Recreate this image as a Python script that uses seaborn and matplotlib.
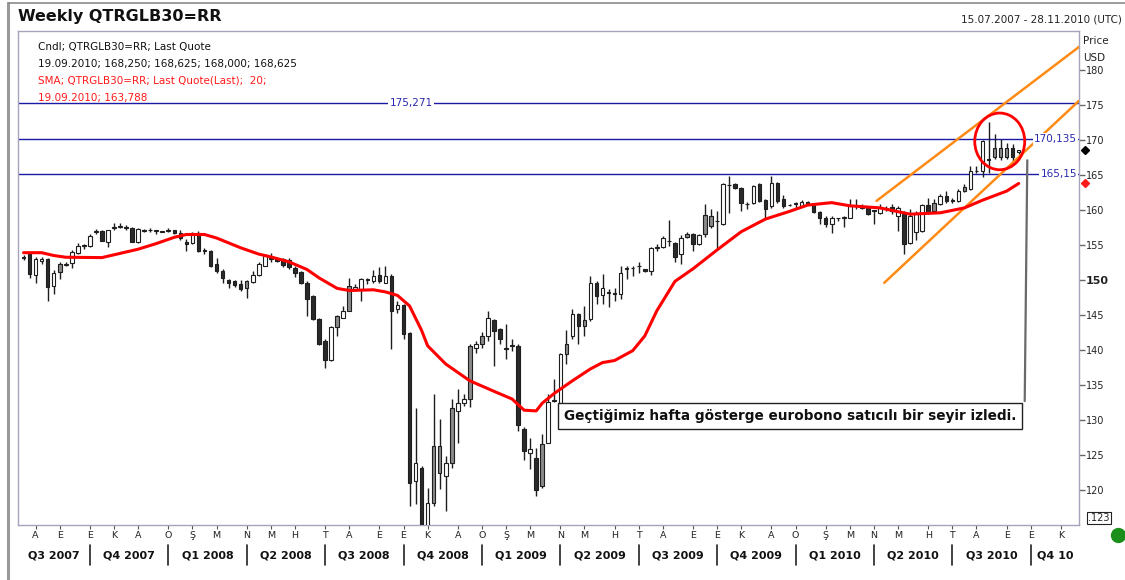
import numpy as np
import pandas as pd
import matplotlib
matplotlib.use("Agg")
import matplotlib.pyplot as plt
import matplotlib.dates as mdates
import matplotlib.transforms as mtransforms
from matplotlib.patches import Ellipse
from matplotlib.lines import Line2D
import seaborn as sns

# ---------------- data ----------------
first_candle = "2007-07-22"
range_start = "2007-07-15"
range_end = "2010-11-28"

opens = [153.2, 153.67, 150.71, 152.7, 152.95, 149.14, 152.24, 152.2, 152.48, 153.9,
         154.8, 154.86, 156.9, 157.0, 155.48, 157.4, 157.55, 157.55, 157.38, 155.48,
         157.05, 157.15, 157.0, 156.9, 157.0, 157.15, 156.76, 155.43, 155.33, 156.76,
         154.2, 154.14, 152.24, 151.29, 149.95, 149.86, 149.38, 149.86, 149.71, 150.71,
         152.0, 153.1, 152.95, 153.05, 152.86, 151.76, 151.19, 149.62, 147.7, 144.38,
         141.29, 138.52, 144.86, 144.62, 149.14, 148.7, 148.67, 150.05, 149.86, 150.71,
         149.62, 150.57, 145.9, 146.43, 142.48, 121.29, 123.2, 114.6, 126.3, 126.29,
         122.0, 131.76, 131.29, 132.4, 140.57, 140.24, 142.0, 142.0, 144.24, 142.95,
         140.3, 140.6, 140.57, 128.67, 125.33, 124.6, 126.52, 126.76, 132.7, 132.48,
         140.81, 142.0, 145.1, 144.24, 144.38, 149.62, 147.86, 148.15, 148.1, 148.05,
         151.6, 151.7, 151.95, 151.52, 151.29, 154.6, 154.71, 155.6, 155.33, 153.67,
         156.62, 156.52, 155.19, 159.24, 159.14, 158.4, 157.95, 163.55, 163.67, 163.19,
         160.8, 161.05, 163.67, 161.38, 160.57, 163.9, 161.52, 160.65, 161.05, 160.57,
         161.19, 160.81, 159.76, 158.9, 158.05, 158.8, 158.85, 158.9, 160.55, 160.5,
         160.43, 159.9, 159.6, 160.25, 160.43, 159.14, 159.38, 155.33, 156.9, 157.0,
         160.71, 161.05, 160.81, 162.0, 161.4, 161.29, 163.29, 162.95, 165.55, 165.5,
         167.3, 168.9, 168.9, 168.9, 168.9, 168.25]
highs = [153.5, 153.9, 153.29, 153.29, 153.1, 151.38, 152.6, 152.5, 154.3, 155.33,
         155.2, 156.5, 157.24, 157.1, 157.2, 158.2, 158.2, 157.85, 157.5, 157.4,
         157.35, 157.4, 157.1, 157.0, 157.45, 157.2, 157.1, 155.8, 156.9, 157.0,
         154.6, 154.3, 153.2, 151.5, 150.2, 150.0, 149.95, 150.0, 151.3, 152.5,
         153.67, 153.9, 153.1, 153.2, 153.1, 152.0, 151.3, 149.8, 147.9, 144.62,
         141.5, 143.43, 145.0, 146.3, 150.24, 149.4, 150.3, 150.3, 151.4, 151.86,
         152.0, 150.8, 147.0, 146.6, 142.6, 131.76, 123.4, 120.3, 133.67, 130.1,
         124.86, 132.95, 134.4, 133.67, 140.9, 141.3, 142.5, 145.57, 144.4, 143.2,
         143.67, 141.5, 140.8, 129.0, 127.4, 126.05, 127.95, 133.67, 135.8, 139.6,
         142.8, 145.81, 145.33, 146.29, 150.57, 149.86, 150.81, 148.67, 148.9, 152.0,
         152.0, 152.0, 152.6, 151.6, 154.71, 155.1, 156.29, 158.52, 155.4, 156.38,
         156.9, 156.7, 156.6, 160.9, 160.1, 159.86, 163.9, 164.86, 163.8, 163.3,
         161.1, 163.6, 163.9, 161.5, 164.86, 164.0, 162.1, 160.9, 161.2, 161.4,
         161.3, 161.0, 159.9, 159.1, 159.1, 158.9, 159.1, 161.52, 161.5, 160.8,
         160.6, 159.95, 160.8, 160.5, 160.8, 160.5, 159.86, 160.1, 159.86, 160.9,
         161.76, 161.5, 162.24, 162.71, 161.7, 162.95, 163.67, 166.29, 166.29, 170.0,
         172.5, 170.81, 170.1, 169.6, 169.4, 168.625]
lows = [152.9, 150.33, 149.62, 152.24, 147.0, 148.05, 150.1, 152.0, 151.76, 153.67,
        154.4, 154.7, 156.5, 155.5, 154.7, 157.2, 157.4, 157.1, 155.4, 155.3,
        156.8, 156.9, 156.6, 156.8, 156.9, 156.6, 155.7, 154.2, 155.2, 154.05,
        153.76, 151.9, 151.05, 149.6, 148.8, 149.0, 148.43, 147.48, 149.5, 150.6,
        152.0, 152.6, 152.6, 151.9, 151.5, 150.43, 149.4, 144.86, 144.24, 140.71,
        137.48, 138.43, 142.0, 144.5, 145.57, 148.4, 147.0, 149.4, 149.6, 149.5,
        149.5, 140.1, 145.3, 141.5, 117.7, 117.95, 113.5, 113.8, 117.7, 120.1,
        117.0, 123.2, 126.76, 132.0, 131.86, 139.6, 140.3, 141.3, 137.7, 140.8,
        138.67, 139.86, 128.43, 124.24, 122.95, 119.14, 120.33, 126.67, 132.6, 132.48,
        137.95, 141.52, 140.81, 142.0, 144.14, 146.52, 146.52, 146.14, 147.0, 147.24,
        150.1, 150.57, 151.05, 151.2, 150.67, 154.14, 154.62, 154.86, 152.62, 152.33,
        156.0, 154.14, 155.0, 156.2, 157.38, 154.52, 157.86, 159.62, 163.0, 159.86,
        160.1, 160.9, 161.1, 158.67, 160.3, 161.0, 160.33, 160.5, 160.3, 160.5,
        160.7, 159.5, 158.05, 157.5, 156.76, 158.4, 157.6, 158.8, 160.1, 160.1,
        159.3, 157.95, 159.4, 159.9, 159.4, 157.0, 153.76, 155.2, 155.67, 156.8,
        159.4, 159.7, 160.7, 161.05, 161.05, 161.2, 162.5, 162.8, 165.33, 164.7,
        165.33, 167.24, 167.2, 167.3, 166.76, 168.0]
closes = [153.25, 150.81, 152.95, 153.0, 149.0, 151.05, 151.1, 152.35, 154.05, 154.86,
          154.95, 156.29, 157.0, 155.57, 157.1, 157.5, 157.65, 157.45, 155.48, 157.24,
          157.15, 157.1, 157.02, 156.95, 157.15, 156.7, 156.05, 155.1, 156.76, 154.14,
          154.25, 152.0, 151.29, 150.24, 149.62, 149.24, 148.67, 148.8, 150.71, 152.33,
          153.43, 153.05, 152.75, 152.1, 151.86, 151.05, 149.62, 147.24, 144.38, 140.9,
          138.52, 143.29, 143.3, 145.57, 145.6, 149.0, 150.1, 150.15, 150.57, 149.86,
          150.57, 145.57, 146.4, 142.24, 121.05, 123.9, 114.8, 118.2, 118.2, 122.48,
          123.9, 123.9, 132.48, 132.95, 133.0, 140.8, 140.85, 144.52, 142.7, 141.52,
          140.2, 140.7, 129.3, 125.57, 125.8, 119.95, 120.57, 132.62, 132.85, 139.38,
          139.4, 145.1, 143.43, 143.45, 149.62, 147.71, 148.9, 148.25, 148.05, 151.05,
          151.65, 151.75, 152.0, 151.3, 154.62, 154.65, 156.05, 155.55, 153.29, 156.05,
          156.14, 155.19, 156.43, 156.5, 157.71, 158.45, 163.67, 163.6, 163.19, 161.05,
          160.85, 163.43, 161.29, 160.1, 163.9, 161.29, 160.57, 160.75, 160.8, 161.19,
          160.8, 159.76, 158.81, 157.95, 158.9, 158.85, 158.9, 160.57, 160.6, 160.3,
          159.48, 159.85, 160.33, 160.2, 159.86, 160.24, 155.1, 159.14, 159.4, 160.71,
          159.62, 159.86, 162.0, 161.29, 161.35, 162.71, 162.75, 165.57, 165.6, 169.86,
          167.2, 167.5, 167.5, 167.6, 167.55, 168.625]

# 20-week simple moving average (week index, value)
sma_week = [0, 3, 5, 7, 13, 15, 19, 22, 25, 27, 30, 32, 36, 39, 41, 44, 47, 49, 52, 54,
            58, 60, 62, 64, 66, 67, 70, 74, 78, 81, 83, 85, 86, 88, 91, 94, 96, 98, 101,
            103, 105, 108, 111, 115, 119, 123, 127, 130, 134, 137, 142, 147, 152, 156,
            159, 163, 165]
sma_value = [153.9, 153.9, 153.5, 153.25, 153.2, 153.6, 154.4, 155.2, 156.1, 156.5,
             156.5, 156.0, 154.6, 153.7, 153.3, 152.6, 151.5, 150.3, 148.8, 148.5,
             148.6, 148.3, 147.8, 146.3, 142.8, 140.6, 138.0, 135.6, 134.1, 133.0,
             131.4, 131.3, 132.4, 133.8, 135.6, 137.3, 138.2, 138.5, 139.9, 142.0,
             145.6, 149.8, 151.6, 154.3, 156.9, 158.7, 159.8, 160.7, 161.05, 160.6,
             160.3, 159.4, 159.6, 160.3, 161.4, 162.7, 163.788]

level_values = [175.271, 170.135, 165.15]
level_labels = ["175,271", "170,135", "165,15"]

channel_upper_dates = ["2010-04-07", "2010-11-28"]
channel_upper_values = [161.3, 183.3]
channel_lower_dates = ["2010-04-16", "2010-11-28"]
channel_lower_values = [149.6, 175.6]

circle_center_date = "2010-08-28"
circle_center_value = 169.8

month_letters = {1: "O", 2: "Ş", 3: "M", 4: "N", 5: "M", 6: "H", 7: "T",
                 8: "A", 9: "E", 10: "E", 11: "K", 12: "A"}
quarter_labels = ["Q3 2007", "Q4 2007", "Q1 2008", "Q2 2008", "Q3 2008", "Q4 2008",
                  "Q1 2009", "Q2 2009", "Q3 2009", "Q4 2009", "Q1 2010", "Q2 2010",
                  "Q3 2010", "Q4 10"]
price_ticks = list(range(120, 181, 5))

title_text = "Weekly QTRGLB30=RR"
range_text = "15.07.2007 - 28.11.2010 (UTC)"
legend_lines = [("Cndl; QTRGLB30=RR; Last Quote", "#111111"),
                ("19.09.2010; 168,250; 168,625; 168,000; 168,625", "#111111"),
                ("SMA; QTRGLB30=RR; Last Quote(Last);  20;", "#ff1a1a"),
                ("19.09.2010; 163,788", "#ff1a1a")]
note_text = "Geçtiğimiz hafta gösterge eurobono satıcılı bir seyir izledi."
note_date = "2009-04-09"
note_value = 130.6
callout_dates = ["2010-09-26", "2010-09-29"]
callout_values = [132.7, 167.1]

# ---------------- styling ----------------
sns.set_theme(style="white")
plt.rcParams["font.family"] = ["DejaVu Sans"]

W, H = 1125, 580
fig = plt.figure(figsize=(W / 100, H / 100), dpi=100)
fig.patch.set_facecolor("white")
L, R, T, B = 17.5, 1079, 31, 525
ax = fig.add_axes([L / W, 1 - B / H, (R - L) / W, (B - T) / H])
ax.set_facecolor("white")

dates = pd.date_range(first_candle, periods=len(opens), freq="7D")
x = mdates.date2num(dates)
o = np.array(opens); h = np.array(highs); l = np.array(lows); c = np.array(closes)
prev_c = np.r_[c[0], c[:-1]]
up = c >= o
fills = np.where(up, "white", np.where(c >= prev_c, "#8a8a8a", "#2a2a2a"))
body_bottom = np.minimum(o, c)
body_h = np.maximum(np.abs(c - o), 0.08)

ax.vlines(x, l, h, colors="#1e1e1e", lw=1.0, zorder=3)
ax.bar(x, body_h, bottom=body_bottom, width=4.2, color=fills,
       edgecolor="#1e1e1e", linewidth=0.8, zorder=4)

# horizontal levels
for v in level_values:
    ax.axhline(v, color="#1a1aa6", lw=1.0, zorder=2)
ax.text(mdates.date2num(pd.Timestamp("2008-10-14")), level_values[0], level_labels[0],
        ha="center", va="center", fontsize=7.5, color="#2a2ab0", zorder=6,
        bbox=dict(boxstyle="square,pad=0.15", fc="white", ec="none"))
tr_axy = mtransforms.blended_transform_factory(ax.transAxes, ax.transData)
for v, lab in zip(level_values[1:], level_labels[1:]):
    ax.text(0.998, v, lab, transform=tr_axy, ha="right", va="center", fontsize=7.5,
            color="#2a2ab0", zorder=6,
            bbox=dict(boxstyle="square,pad=0.1", fc="white", ec="none"))

# channel lines
ax.plot(pd.to_datetime(channel_upper_dates), channel_upper_values, color="#ff8a14", lw=1.8, zorder=5)
ax.plot(pd.to_datetime(channel_lower_dates), channel_lower_values, color="#ff8a14", lw=1.8, zorder=5)

# SMA
sma_dates = pd.Timestamp(first_candle) + pd.to_timedelta(np.array(sma_week) * 7, unit="D")
sns.lineplot(x=sma_dates, y=sma_value, ax=ax, color="#ff0000", lw=2.2, zorder=5)

# circle
ax.add_patch(Ellipse((mdates.date2num(pd.Timestamp(circle_center_date)), circle_center_value),
                     width=58, height=8.1, fill=False, ec="#ff0000", lw=2.0, zorder=6))

# callout
ax.plot(pd.to_datetime(callout_dates), callout_values, color="#6a6a6a", lw=1.6, zorder=6)
ax.text(mdates.date2num(pd.Timestamp(note_date)), note_value, note_text, fontsize=9.8,
        fontweight="bold", ha="left", va="center", color="#111111", zorder=7,
        bbox=dict(boxstyle="square,pad=0.45", fc="white", ec="#222222", lw=1.0))

ax.set_xlim(mdates.date2num(pd.Timestamp(range_start)), mdates.date2num(pd.Timestamp(range_end)))
ax.set_ylim(115.0, 185.57)
ax.set_xlabel(""); ax.set_ylabel("")
ax.grid(False)
for s in ax.spines.values():
    s.set_color("#a4a4bc"); s.set_linewidth(1.0)

# right price axis
ax.yaxis.tick_right()
ax.set_yticks(price_ticks)
ax.set_yticklabels([str(t) for t in price_ticks])
ax.tick_params(axis="y", direction="out", length=4, width=1, color="#666666",
               labelcolor="#222222", labelsize=7, pad=1, left=False, right=True)
for lbl in ax.get_yticklabels():
    if lbl.get_text() == "150":
        lbl.set_fontweight("bold"); lbl.set_fontsize(8)

# month ticks (first weekly date of every month)
weeks = pd.date_range(first_candle, range_end, freq="7D")
wk = pd.Series(weeks)
first_in_month = wk.groupby([wk.dt.year, wk.dt.month]).first().tolist()
first_in_month = [d for d in first_in_month if not (d.year == 2007 and d.month == 7)]
ax.set_xticks(mdates.date2num(first_in_month))
ax.set_xticklabels([month_letters[d.month] for d in first_in_month])
ax.tick_params(axis="x", direction="out", length=3, width=0.8, color="#555555",
               labelcolor="#222222", labelsize=6.8, pad=1.5, bottom=True)

# quarter labels and separators
seps = [d for d in first_in_month if d.month in (1, 4, 7, 10)]
bounds = [pd.Timestamp(range_start)] + seps + [pd.Timestamp(range_end)]
tr_dfig = mtransforms.blended_transform_factory(ax.transData, fig.transFigure)
for i, q in enumerate(quarter_labels):
    a = mdates.date2num(bounds[i]); b = mdates.date2num(bounds[i + 1])
    ax.text((a + b) / 2, 1 - 555 / H, q, transform=tr_dfig, ha="center", va="center",
            fontsize=8, fontweight="bold", color="#111111")
for d in seps:
    xd = mdates.date2num(d)
    ax.plot([xd, xd], [1 - 545 / H, 1 - 565 / H], transform=tr_dfig, clip_on=False,
            color="#222222", lw=1.2)

# legend text inside plot
for k, (txt, col) in enumerate(legend_lines):
    ax.text(0.0193, 0.9676 - k * 0.0344, txt, transform=ax.transAxes, fontsize=7.5,
            color=col, ha="left", va="center")

# last-value markers
ax.plot([1.0057], [closes[-1]], marker="D", color="black", ms=4.5, transform=tr_axy, clip_on=False)
ax.plot([1.0057], [sma_value[-1]], marker="D", color="#ff1a1a", ms=4.5, transform=tr_axy, clip_on=False)

# figure texts
fig.text(18 / W, 1 - 17 / H, title_text, fontsize=11.5, fontweight="bold", va="center", color="#111111")
fig.text(1122 / W, 1 - 20 / H, range_text, fontsize=7.5, ha="right", va="center", color="#222222")
fig.text(1083 / W, 1 - 41 / H, "Price", fontsize=7.5, va="center", color="#222222")
fig.text(1083 / W, 1 - 58 / H, "USD", fontsize=7.5, va="center", color="#222222")
fig.text(1099 / W, 1 - 518 / H, ".123", fontsize=7, ha="center", va="center", color="#222222",
         bbox=dict(boxstyle="square,pad=0.12", fc="white", ec="#222222", lw=0.8))
fig.add_artist(Line2D([1118 / W], [1 - 535 / H], marker="o", ms=10, color="#1a8f1a",
                      transform=fig.transFigure))
# outer frame
fig.add_artist(Line2D([8 / W, 8 / W], [0, 1 - 3 / H], color="#9a9a9a", lw=2.2, transform=fig.transFigure))
fig.add_artist(Line2D([8 / W, 1], [1 - 3 / H, 1 - 3 / H], color="#8a8a8a", lw=1.2, transform=fig.transFigure))

fig.savefig("out.png", dpi=100)
